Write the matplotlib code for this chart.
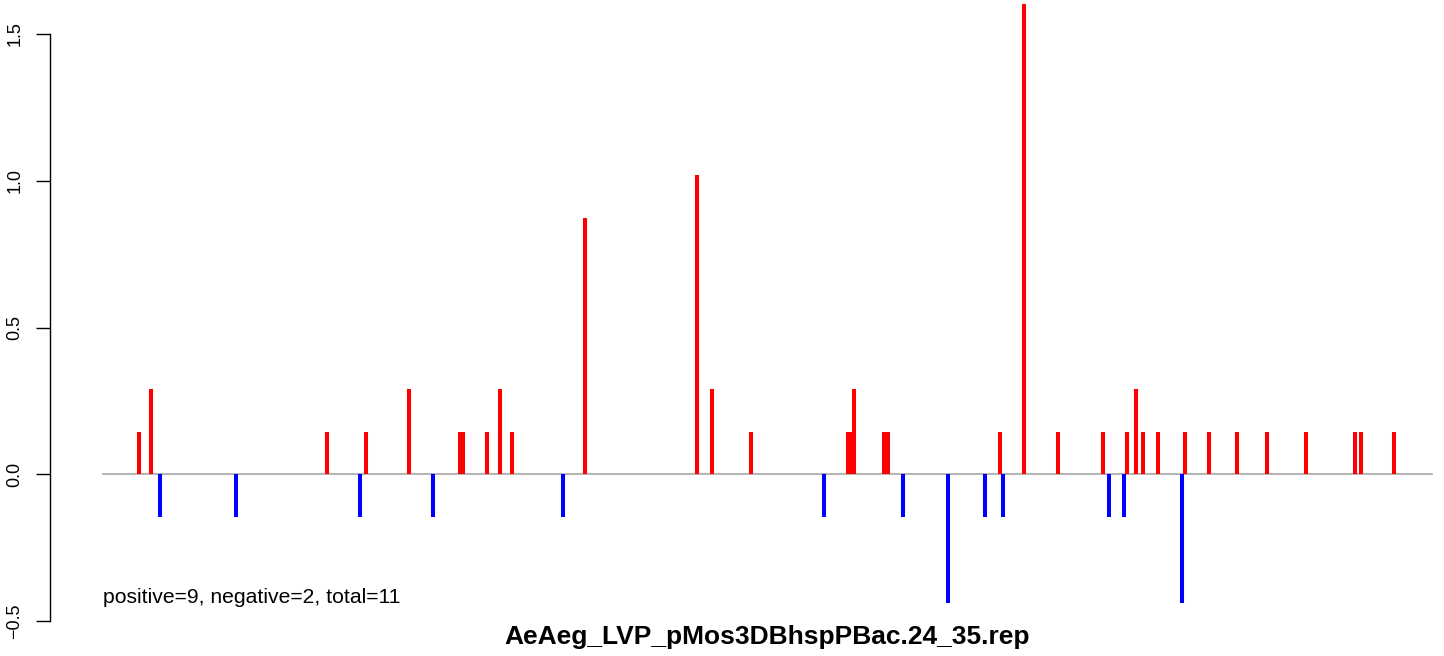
# -*- coding: utf-8 -*-
"""
Repeat score plot for one construct, drawn like an R type='h' plot
"""

import numpy as np
import matplotlib.pyplot as plt

plt.rcParams['font.family'] = ['Liberation Sans', 'DejaVu Sans']

# name of the repeat file, used as the x label
rep_name = 'AeAeg_LVP_pMos3DBhspPBac.24_35.rep'

# start and end of the sequence
seq_start = 0
seq_end = 1329

# positive scores (position, score)
pos_x = [36, 48, 224, 263, 306, 357, 360, 384, 397, 409, 482,
         594, 609, 648, 745, 747, 751, 781, 785, 897, 921, 955,
         1000, 1024, 1033, 1040, 1055, 1082, 1106, 1134, 1164,
         1203, 1252, 1258, 1291]
pos_y = [0.146, 0.292, 0.146, 0.146, 0.292, 0.146, 0.146, 0.146, 0.292, 0.146, 0.875,
         1.021, 0.292, 0.146, 0.146, 0.146, 0.292, 0.146, 0.146, 0.146, 1.604, 0.146,
         0.146, 0.146, 0.292, 0.146, 0.146, 0.146, 0.146, 0.146, 0.146,
         0.146, 0.146, 0.146, 0.146]

# negative scores (position, score)
neg_x = [57, 133, 257, 330, 460, 721, 800, 845, 882, 900, 1006, 1021, 1079]
neg_y = [-0.146, -0.146, -0.146, -0.146, -0.146, -0.146, -0.146, -0.4375,
         -0.146, -0.146, -0.146, -0.146, -0.4375]

# summary counts printed in the corner
n_positive = 9
n_negative = 2
n_total = 11


W, H = 1444, 656
fig = plt.figure(figsize=(W / 100, H / 100), dpi=100)

# plot region in pixels (R style, extends a bit past the right edge)
left, right, top, bottom = 50, 1485, 0, 627
ax = fig.add_axes([left / W, 1 - bottom / H, (right - left) / W, (bottom - top) / H])

# x range with the usual 4% padding
span = seq_end - seq_start
ax.set_xlim(seq_start - 0.04 * span, seq_end + 0.04 * span)
ax.set_ylim(-0.52, 1.616)

# zero line over the sequence
ax.plot([seq_start, seq_end], [0, 0], color='#a8a8a8', lw=1.2, zorder=1)

# vertical bars
ax.vlines(pos_x, 0, pos_y, color='red', lw=2.9, zorder=2)
ax.vlines(neg_x, 0, neg_y, color='blue', lw=2.9, zorder=2)

# counts text, anchored at the lowest score
ax.text(seq_start, min(neg_y), 'positive=%d, negative=%d, total=%d' % (n_positive, n_negative, n_total),
        ha='left', va='baseline', fontsize=15.2, color='black')

# axes: only the left one, R look
for s in ['top', 'right', 'bottom']:
    ax.spines[s].set_visible(False)
ax.spines['left'].set_bounds(-0.5, 1.5)
ax.spines['left'].set_linewidth(1.0)
ax.set_yticks([-0.5, 0.0, 0.5, 1.0, 1.5])
ax.set_yticklabels(['\u22120.5', '0.0', '0.5', '1.0', '1.5'], rotation=90, va='center')
ax.tick_params(axis='y', length=10, width=1.0, pad=9, labelsize=13)
ax.set_xticks([])
ax.patch.set_alpha(0)

# file name as bold label at the bottom
fig.text((left + right) / 2 / W, 12 / H, rep_name, ha='center', va='baseline',
         fontsize=19, fontweight='bold')

fig.savefig('out.png', dpi=100)
